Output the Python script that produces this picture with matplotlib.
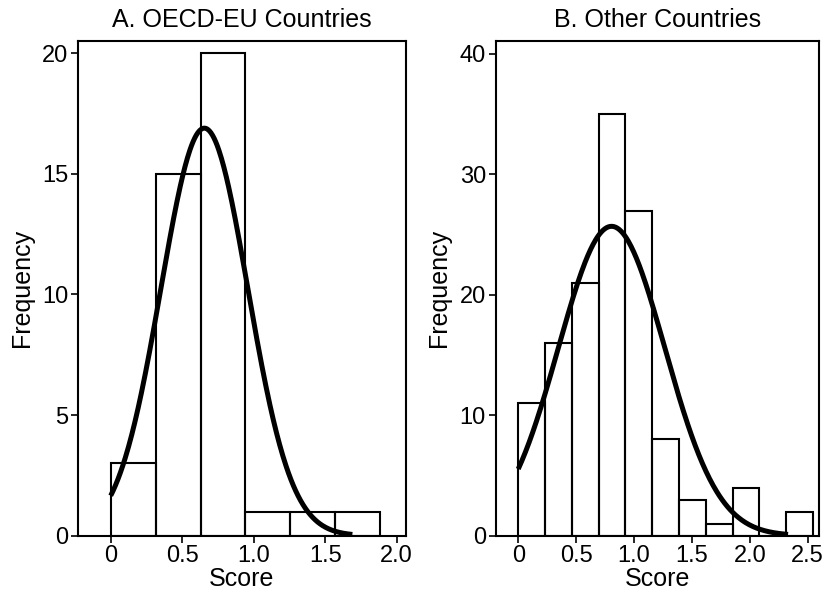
import matplotlib
matplotlib.use('Agg')
import matplotlib.pyplot as plt
import numpy as np

plt.rcParams['font.family'] = ['Liberation Sans', 'DejaVu Sans']
plt.rcParams['font.size'] = 18

# panel A: OECD-EU countries
eu_edges = [0.0, 0.314, 0.628, 0.942, 1.256, 1.570, 1.884]
eu_counts = [3, 15, 20, 1, 1, 1]
eu_mean, eu_sd, eu_curve_end = 0.655, 0.304, 1.69

# panel B: other countries
ot_edges = [0.0, 0.2314, 0.4628, 0.6942, 0.9256, 1.157, 1.3884, 1.6198,
            1.8512, 2.0826, 2.314, 2.5454]
ot_counts = [11, 16, 21, 35, 27, 8, 3, 1, 4, 0, 2]
ot_mean, ot_sd, ot_curve_end = 0.806, 0.46, 2.33

fig = plt.figure(figsize=(8.25, 5.96), dpi=100)
ax1 = fig.add_axes([0.0945, 0.1012, 0.3976, 0.8305])
ax2 = fig.add_axes([0.6008, 0.1012, 0.3919, 0.8305])


def panel(ax, edges, counts, mean, sd, xend, title, xlim, ylim, xticks, yticks):
    edges = np.array(edges)
    widths = np.diff(edges)
    ax.bar(edges[:-1], counts, width=widths, align='edge', fill=False,
           edgecolor='black', linewidth=1.5)
    n = sum(counts)
    xs = np.linspace(0, xend, 300)
    ys = n * widths.mean() * np.exp(-(xs - mean) ** 2 / (2 * sd ** 2)) / (sd * np.sqrt(2 * np.pi))
    ax.plot(xs, ys, color='black', lw=3.6, solid_capstyle='butt')
    ax.set_xlim(*xlim)
    ax.set_ylim(*ylim)
    ax.set_xticks(xticks)
    ax.set_xticklabels(['0' if t == 0 else '%.1f' % t for t in xticks])
    ax.set_yticks(yticks)
    ax.set_title(title, fontsize=18, pad=10)
    ax.set_xlabel('Score', fontsize=18, labelpad=0)
    ax.set_ylabel('Frequency', fontsize=18, labelpad=6)
    for sp in ax.spines.values():
        sp.set_linewidth(1.5)
    ax.tick_params(direction='out', length=5, width=1.2, labelsize=17, pad=2)


panel(ax1, eu_edges, eu_counts, eu_mean, eu_sd, eu_curve_end,
      'A. OECD-EU Countries', (-0.229, 2.065), (0, 20.52),
      [0, 0.5, 1.0, 1.5, 2.0], [0, 5, 10, 15, 20])
panel(ax2, ot_edges, ot_counts, ot_mean, ot_sd, ot_curve_end,
      'B. Other Countries', (-0.195, 2.597), (0, 41.1),
      [0, 0.5, 1.0, 1.5, 2.0, 2.5], [0, 10, 20, 30, 40])

plt.savefig('out.png', dpi=100)
